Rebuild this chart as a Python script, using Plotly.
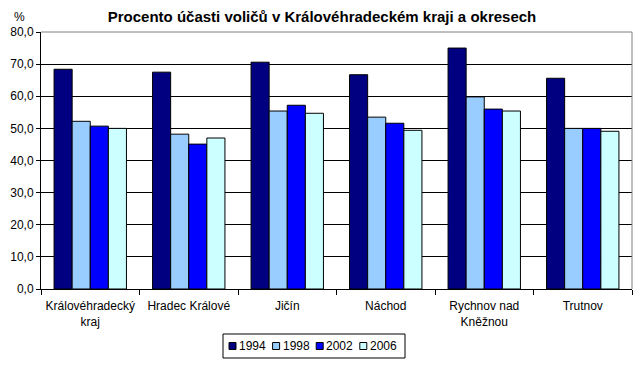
import plotly.graph_objects as go

categories = ["Královéhradecký<br>kraj", "Hradec Králové", "Jičín", "Náchod", "Rychnov nad<br>Kněžnou", "Trutnov"]
years = ["1994", "1998", "2002", "2006"]
v1994 = [68.4, 67.5, 70.6, 66.7, 75.0, 65.6]
v1998 = [52.2, 48.2, 55.4, 53.5, 59.8, 50.0]
v2002 = [50.7, 45.1, 57.2, 51.6, 56.0, 50.0]
v2006 = [50.0, 47.0, 54.7, 49.4, 55.4, 49.1]
colors = ["#000080", "#99CCFF", "#0000FF", "#CCFFFF"]
yticks = [0, 10, 20, 30, 40, 50, 60, 70, 80]

FONT = "Arial, Liberation Sans, sans-serif"
L, R, T, B = 41, 9, 32, 79
W, H = 641, 368
PW, PH = W - L - R, H - T - B


def px(x):
    return (x - L) / PW


def py(y):
    return (H - B - y) / PH


fig = go.Figure()
for name, vals, c in zip(years, [v1994, v1998, v2002, v2006], colors):
    fig.add_trace(go.Bar(name=name, x=categories, y=vals,
                         marker=dict(color=c, line=dict(color="black", width=1))))

fig.update_layout(
    width=W, height=H,
    margin=dict(l=L, r=R, t=T, b=B, autoexpand=False),
    paper_bgcolor="white", plot_bgcolor="white",
    font=dict(family=FONT, size=12, color="black"),
    barmode="group", bargap=0.265, bargroupgap=0,
    separators=", ",
    title=dict(text="<b>Procento účasti voličů v Královéhradeckém kraji a okresech</b>",
               xref="container", yref="container",
               x=322 / W, xanchor="center", y=1 - 17 / H, yanchor="middle",
               font=dict(family=FONT, size=15, color="black")),
    showlegend=False,
)
fig.update_yaxes(range=[0, 80], tickvals=yticks, tickformat=".1f",
                 showgrid=True, gridcolor="black", gridwidth=1,
                 showline=True, linecolor="black", linewidth=1,
                 ticks="outside", ticklen=4, tickcolor="black", zeroline=False,
                 tickfont=dict(size=12), automargin=False)
fig.update_xaxes(showline=True, linecolor="black", linewidth=1,
                 ticks="outside", ticklen=5, tickcolor="black", tickson="boundaries",
                 tickfont=dict(size=12), automargin=False, ticklabelstandoff=6)
fig.add_shape(type="line", xref="paper", yref="paper", x0=0, x1=1, y0=1, y1=1,
              line=dict(color="#808080", width=1))
fig.add_shape(type="line", xref="paper", yref="paper", x0=1, x1=1, y0=0, y1=1,
              line=dict(color="#808080", width=1))
fig.add_annotation(text="%", xref="paper", yref="paper", x=px(19), y=py(17),
                   xanchor="center", yanchor="middle", showarrow=False,
                   font=dict(size=12, family=FONT))

# custom compact legend (matching the original's boxed legend)
fig.add_shape(type="rect", xref="paper", yref="paper", x0=px(223), x1=px(405),
              y0=py(334), y1=py(358), line=dict(color="black", width=1), fillcolor="white")
for i, (name, c) in enumerate(zip(years, colors)):
    x0 = 229 + i * 43.6
    fig.add_shape(type="rect", xref="paper", yref="paper", x0=px(x0), x1=px(x0 + 7),
                  y0=py(342.5), y1=py(349.5), line=dict(color="black", width=1), fillcolor=c)
    fig.add_annotation(text=name, xref="paper", yref="paper", x=px(x0 + 8), y=py(346),
                       xanchor="left", yanchor="middle", showarrow=False,
                       font=dict(size=12, family=FONT))

fig.write_html("out.html", config={"displayModeBar": False},
               post_script="document.body.style.margin='0';")
